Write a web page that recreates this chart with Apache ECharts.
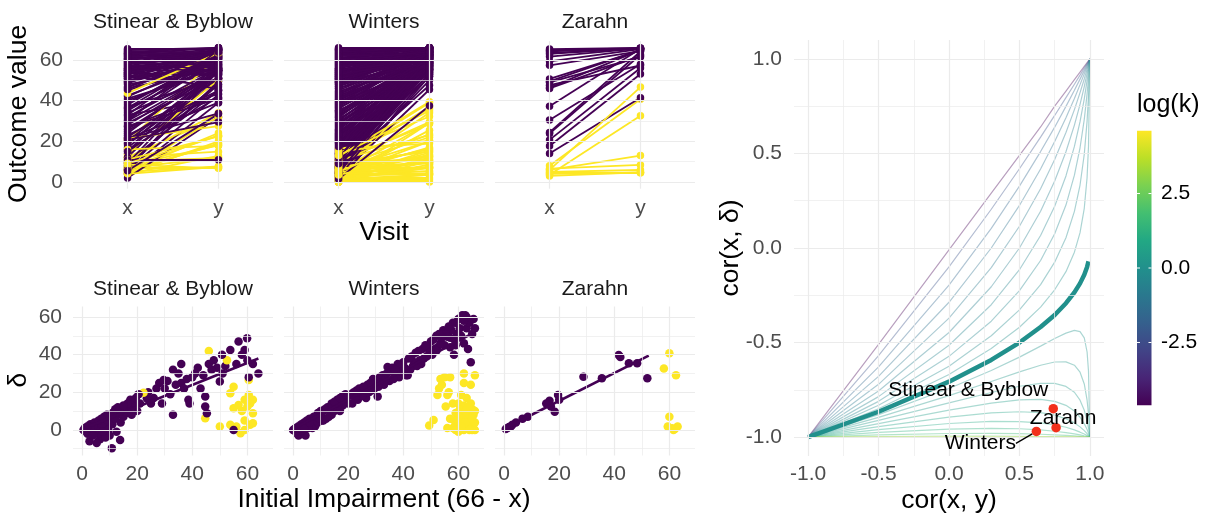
<!DOCTYPE html>
<html>
<head>
<meta charset="utf-8">
<script src="https://cdn.jsdelivr.net/npm/echarts@6/dist/echarts.min.js"></script>
<style>
  html, body { margin: 0; background: #fff; }
  #chart { width: 1206px; height: 514px; }
</style>
</head>
<body>
<div id="chart"></div>
<script>
// ---- data -------------------------------------------------------------
const studies = ['Stinear & Byblow', 'Winters', 'Zarahn'];
const maxScore = 66;            // initial impairment = 66 - x
const visitLabels = ['x', 'y'];

// [initial impairment, delta, fitter(1) / non-fitter(0)]
const stinear = [
  [0.5,0,1],[1,1,1],[1.5,-1,1],[2,2,1],[2,-2,1],[2.7,-6,1],[3,1,1],[3,3,1],[3.5,-1,1],[4,2,1],
  [4,-3,1],[4.5,4,1],[5,0,1],[5.3,-7,1],[5.5,3,1],[6,5,1],[6,-2,1],[6.5,-5,1],[7,2,1],[7,6,1],
  [7.5,-1,1],[8,4,1],[8,7,1],[8.5,-4,1],[9,3,1],[9,8,1],[9.5,0,1],[10,6,1],[10,-3,1],[10.8,-9.7,1],
  [11,9,1],[11,3,1],[12,11,1],[12,6,1],[12.5,-1,1],[13,8,1],[13,12,1],[13.8,-5.3,1],[14,4,1],[14,10,1],
  [15,13,1],[15,7,1],[16,9,1],[16.5,14,1],[17,11,1],[17.5,16,1],[18,8,1],[19,13,1],[19.5,17,1],[20,10,1],
  [20.5,19,1],[21,14,1],[23.5,16.8,1],[24,20,1],[25,14,1],[26,17,1],[27,22,1],[28,25,1],[29,14,1],[29.6,26.5,1],
  [30,22,1],[31,26,1],[32,19,1],[33,32,1],[33,8,1],[34,24,1],[35,30,1],[36,35,1],[36,25,1],[37,22,1],
  [38,27,1],[38.6,16,1],[39,14,1],[40,28,1],[41,30,1],[42,33,1],[43,22,1],[44,29,1],[44.7,17.7,1],[44.7,12.4,1],
  [45.3,8.8,1],[46,35,1],[47,32,1],[47.8,37,1],[49,33,1],[50,25.7,1],[50.8,40,1],[51,30,1],[52,34,1],[53.8,42.5,1],
  [55,0,1],[56,35,1],[56.8,47,1],[58,40,1],[59,42.5,1],[59.9,48.7,1],[60,37,1],[60.5,28,1],[62,35,1],[64,30,1],
  [22.3,19.8,0],[46,42,0],[52.6,37,0],[44.7,6.2,0],[53.8,19.5,0],[55,23,0],[60.5,26.5,0],[50,1.8,0],[53.8,2.7,0],[56,1.8,0],
  [57.5,-1.8,0],[59,0,0],[61,2.7,0],[62,3.5,0],[60.5,18.6,0],[62,16,0],[59,16,0],[56.8,13.3,0],[62,8.8,0],[60,12.4,0],
  [55,11.5,0],[58,10,0],[61,14,0],[59,5,0]
];
const winters = [
  [0,0,1],[0.5,0.5,1],[1,-1,1],[1,1,1],[1.5,-2,1],[2,2,1],[2,-3,1],[2.5,1,1],[3,3,1],[3,-1,1],
  [3.5,0,1],[4,1,1],[4,4,1],[4.5,-3,1],[5,3,1],[5,5,1],[5.5,1,1],[6,4,1],[6,6,1],[6.5,2,1],
  [7,5,1],[7,1,1],[7.5,7,1],[8,6,1],[8,2,1],[8.5,7,1],[9,9,1],[9,4,1],[9.5,6,1],[10,8,1],
  [10,10,1],[10.5,5,1],[11,10,1],[11,5,1],[11.5,11,1],[12,11,1],[12,6,1],[12.5,12,1],[13,12,1],[13,7,1],
  [13.5,10,1],[14,14,1],[14,8,1],[14.5,11,1],[15,15,1],[15,10,1],[15.5,13,1],[16,16,1],[16,11,1],[16.5,14,1],
  [17,17,1],[17,10,1],[17.5,15,1],[18,18,1],[18,13,1],[19,15,1],[19,19,1],[20,18,1],[20,14,1],
  [21,19,1],[21.5,14,1],[22,20,1],[22.5,17,1],[23,21,1],[23.5,16,1],[24,22,1],[24.5,19,1],[25,18,1],[25.5,23,1],
  [26,21,1],[26.5,17,1],[27,24,1],[27.5,20,1],[28,25,1],[28.5,21,1],[29,27,1],[29.5,22,1],[30,26,1],[30.7,17.7,1],
  [31,23,1],[31.5,28,1],[32,25,1],[32.5,29,1],[33,24,1],[33.5,27,1],[34,30,1],[34.3,33.5,1],[35,26,1],[35.5,31,1],
  [36,33,1],[36.5,27,1],[37,32,1],[37.5,29,1],[38,35,1],[38.5,28,1],[39,34,1],[39.5,31,1],[40,36,1],
  [40.5,33,1],[41,29,1],[41.6,29,1],[42,38,1],[42.5,32,1],[43,39,1],[43.5,34,1],[44,36,1],[44.5,41,1],[45,34,1],
  [45.5,42,1],[46,37,1],[46.5,35,1],[47,43,1],[47.5,38,1],[48,45,1],[48.5,39,1],[49,44,1],[49.5,41,1],[50,47,1],
  [50.5,40,1],[51,48,1],[51.5,43,1],[52,50,1],[52.5,44,1],[53,51,1],[53.5,46,1],[54,49,1],[54.5,53,1],[55,45,1],
  [55.5,51,1],[56,49.5,1],[56.5,55,1],[57,44,1],[57.5,53,1],[58,57,1],[58.4,40,1],[58.5,48,1],[59,57,1],[59.5,51,1],
  [60,59,1],[60.5,54,1],[61,60,1],[61.4,61,1],[62,58,1],[62,46,1],[62.5,61,1],[63,54,1],[63.5,43,1],[64,57,1],
  [64.5,36,1],[65,51,1],[65.5,59,1],[66,54,1],[59,45,1],[61,50,1],[63,60,1],[57,49,1],[55,52,1],[52,42,1],
  [49.4,2.3,0],[51,5.3,0],[52.4,18.6,0],[55,28,0],[54,24,0],[57,28,0],[55.4,12.4,0],[53,22,0],[56,18.6,0],[62,30,0],
  [62,25,0],[66,29,0],[64.5,24,0],[61,18.6,0],[63,17,0],[60,14,0],[58,1,0],[58.5,5,0],[59,0,0],[59,9,0],
  [59.5,3,0],[60,7,0],[60,-1,0],[60.5,11,0],[61,2,0],[61,5,0],[61.5,8,0],[62,0,0],[62,13,0],[62.5,4,0],
  [62.5,10,0],[63,1,0],[63,7,0],[63.5,3,0],[63.5,12,0],[64,0,0],[64,5,0],[64,9,0],[64.5,2,0],[64.5,14,0],
  [65,0,0],[65,6,0],[65,11,0],[65.5,3,0],[65.5,8,0],[66,0,0],[66,4,0],[66,10,0],[57,6,0],[56,1,0],
  [58,14,0],[56.5,20,0],[53.5,27,0]
];
const zarahn = [
  [0.6,0.5,1],[1.2,1,1],[1.8,1.5,1],[2.5,2,1],[3,2.8,1],[4.3,4,1],[6.7,6,1],[8.6,7,1],[15.3,14,1],[16.5,15.5,1],
  [17,12.5,1],[18.4,9.7,1],[19.6,18.6,1],[20,16,1],[28.8,28.3,1],[35.5,27.4,1],[41.6,39.8,1],[42.2,38.8,1],[45.3,35.4,1],[48.3,35.4,1],
  [52,27.4,1],
  [60,40.7,0],[58,32.7,0],[62.4,29,0],[60,7,0],[59.4,1.8,0],[61,0.9,0],[63,1.8,0],[61.5,0,0],[62,0.5,0]
];
const studyData = [stinear, winters, zarahn];
// fitted proportional-recovery lines (start, end) per study
const fitLines = [[[0, 0.5], [64, 38]], [[0, 0.5], [66, 52]], [[0.5, 1], [52.5, 39.5]]];

// right panel: cor(x, delta) against cor(x, y), one curve per k
const rhoGrid = [-1, -0.5, 0, 0.3, 0.5, 0.65, 0.75, 0.83, 0.89, 0.93, 0.96, 0.98, 0.99, 1];
const kValues = [0.01, 0.1, 0.2, 0.3, 0.4, 0.5, 0.6, 0.7, 0.8, 0.9, 1,
  1.111, 1.25, 1.429, 1.667, 2, 2.5, 3.333, 5, 10, 100];
const corCurves = [
  [-1, -0.51, -0.01, 0.29, 0.49, 0.64, 0.75, 0.83, 0.89, 0.93, 0.96, 0.98, 0.99, 1],
  [-1, -0.569, -0.1, 0.205, 0.419, 0.586, 0.701, 0.795, 0.866, 0.914, 0.951, 0.975, 0.988, 1],
  [-1, -0.629, -0.196, 0.104, 0.327, 0.51, 0.639, 0.749, 0.834, 0.893, 0.938, 0.969, 0.984, 1],
  [-1, -0.679, -0.287, 0, 0.225, 0.418, 0.563, 0.689, 0.791, 0.864, 0.921, 0.96, 0.98, 1],
  [-1, -0.721, -0.371, -0.104, 0.115, 0.313, 0.468, 0.611, 0.732, 0.822, 0.894, 0.946, 0.973, 1],
  [-1, -0.756, -0.447, -0.205, 0, 0.194, 0.354, 0.509, 0.65, 0.76, 0.854, 0.924, 0.961, 1],
  [-1, -0.786, -0.514, -0.3, -0.115, 0.066, 0.221, 0.381, 0.537, 0.668, 0.789, 0.886, 0.94, 1],
  [-1, -0.811, -0.573, -0.387, -0.225, -0.066, 0.075, 0.227, 0.385, 0.53, 0.68, 0.815, 0.899, 1],
  [-1, -0.832, -0.625, -0.464, -0.327, -0.194, -0.075, 0.054, 0.194, 0.333, 0.496, 0.671, 0.803, 1],
  [-1, -0.85, -0.669, -0.532, -0.419, -0.313, -0.221, -0.125, -0.022, 0.081, 0.21, 0.373, 0.538, 1],
  [-1, -0.866, -0.707, -0.592, -0.5, -0.418, -0.354, -0.292, -0.235, -0.187, -0.141, -0.1, -0.071, null],
  [-1, -0.881, -0.743, -0.648, -0.577, -0.519, -0.479, -0.45, -0.436, -0.442, -0.475, -0.55, -0.652, -1],
  [-1, -0.896, -0.781, -0.706, -0.655, -0.62, -0.603, -0.602, -0.62, -0.657, -0.719, -0.805, -0.879, -1],
  [-1, -0.912, -0.819, -0.764, -0.731, -0.716, -0.716, -0.732, -0.763, -0.805, -0.858, -0.914, -0.952, -1],
  [-1, -0.929, -0.857, -0.82, -0.803, -0.801, -0.811, -0.832, -0.862, -0.895, -0.93, -0.96, -0.979, -1],
  [-1, -0.945, -0.894, -0.872, -0.866, -0.871, -0.884, -0.903, -0.925, -0.946, -0.966, -0.982, -0.99, -1],
  [-1, -0.961, -0.928, -0.917, -0.918, -0.925, -0.935, -0.948, -0.962, -0.974, -0.984, -0.992, -0.996, -1],
  [-1, -0.975, -0.958, -0.954, -0.956, -0.962, -0.969, -0.976, -0.983, -0.988, -0.993, -0.996, -0.998, -1],
  [-1, -0.988, -0.981, -0.98, -0.982, -0.985, -0.988, -0.991, -0.994, -0.996, -0.998, -0.999, -0.999, -1],
  [-1, -0.997, -0.995, -0.995, -0.996, -0.997, -0.997, -0.998, -0.999, -0.999, -1, -1, -1, -1],
  [-1, -1, -1, -1, -1, -1, -1, -1, -1, -1, -1, -1, -1, -1]
];
// observed correlations per study: [cor(x, y), cor(x, delta)]
const studyCor = [[0.74, -0.85], [0.62, -0.97], [0.76, -0.95]];

const outcomeTicks = [0, 20, 40, 60];
const impairTicks = [0, 20, 40, 60];
const deltaTicks = [0, 20, 40, 60];
const corTicks = [-1, -0.5, 0, 0.5, 1];
const legendTicks = [-2.5, 0, 2.5];

// ---- styling ----------------------------------------------------------
const FONT = '"Liberation Sans", Arial, Helvetica, sans-serif';
const groupColor = ['#FDE725', '#440154'];
const viridis = ['#440154', '#482576', '#414487', '#35608D', '#2A788E', '#21908C',
  '#22A884', '#43BF71', '#7AD151', '#BBDF27', '#FDE725'];
const GRID_COL = '#EBEBEB';

function hexRgb(h) {
  return [1, 3, 5].map(i => parseInt(h.slice(i, i + 2), 16));
}
function viridisAt(t) {
  t = Math.max(0, Math.min(1, t));
  const p = t * (viridis.length - 1);
  const i = Math.min(Math.floor(p), viridis.length - 2);
  const f = p - i;
  const a = hexRgb(viridis[i]), b = hexRgb(viridis[i + 1]);
  return 'rgb(' + a.map((v, j) => Math.round(v + (b[j] - v) * f)).join(',') + ')';
}
// interleave draw order like the original data order
function drawOrder(n) {
  return Array.from({ length: n }, (_, i) => i).sort((a, b) => ((a * 37) % n) - ((b * 37) % n));
}

// panel layout
const panelLeft = [73, 284, 495];
const panelW = 200;
const topTop = 41.1, topH = 147.6;
const botTop = 306.5, botH = 149;

const grids = [];
const xAxes = [];
const yAxes = [];
const series = [];

const tickLabel = (extra) => Object.assign({
  color: '#4D4D4D', fontSize: 21, fontFamily: FONT
}, extra);
const hiddenAxisParts = {
  axisLine: { show: false }, axisTick: { show: false }, splitLine: { show: false }
};

// grid lines through markLine on an empty helper series
function gridLines(idx, xMajor, xMinor, yMajor, yMinor) {
  const item = (key, v, w) => ({ [key]: v, lineStyle: { color: GRID_COL, width: w, type: 'solid' } });
  const data = [
    ...xMinor.map(v => item('xAxis', v, 0.7)),
    ...yMinor.map(v => item('yAxis', v, 0.7)),
    ...xMajor.map(v => item('xAxis', v, 1.2)),
    ...yMajor.map(v => item('yAxis', v, 1.2))
  ];
  series.push({
    type: 'line', xAxisIndex: idx, yAxisIndex: idx, data: [], z: 0, silent: true,
    markLine: { silent: true, symbol: ['none', 'none'], label: { show: false }, data: data }
  });
}

// ---- top row: outcome at visit x and y -------------------------------
studyData.forEach((rows, i) => {
  const idx = i;
  grids.push({ left: panelLeft[i], top: topTop, width: panelW, height: topH });
  xAxes.push(Object.assign({
    gridIndex: idx, type: 'value', min: -0.6, max: 1.6,
    axisLabel: tickLabel({ customValues: [0, 1], margin: 9, formatter: v => visitLabels[Math.round(v)] })
  }, hiddenAxisParts));
  yAxes.push(Object.assign({
    gridIndex: idx, type: 'value', min: -3.3, max: 69.3,
    axisLabel: tickLabel({ show: i === 0, customValues: outcomeTicks, margin: 10 })
  }, hiddenAxisParts));
  gridLines(idx, [0, 1], [], outcomeTicks, [10, 30, 50]);

  const order = drawOrder(rows.length);
  const lineData = [];
  const pointData = [];
  order.forEach(j => {
    const [imp, d, fit] = rows[j];
    const x0 = maxScore - imp;
    const col = groupColor[fit];
    lineData.push({ coords: [[0, x0], [1, x0 + d]], lineStyle: { color: col } });
    pointData.push({ value: [0, x0], itemStyle: { color: col } });
    pointData.push({ value: [1, x0 + d], itemStyle: { color: col } });
  });
  series.push({
    type: 'lines', coordinateSystem: 'cartesian2d', xAxisIndex: idx, yAxisIndex: idx,
    data: lineData, lineStyle: { width: 1.8, opacity: 1 }, silent: true, z: 2
  });
  series.push({
    type: 'scatter', xAxisIndex: idx, yAxisIndex: idx, data: pointData,
    symbolSize: 7.5, itemStyle: { opacity: 1 }, silent: true, z: 3
  });
});

// ---- bottom row: delta against initial impairment --------------------
studyData.forEach((rows, i) => {
  const idx = 3 + i;
  grids.push({ left: panelLeft[i], top: botTop, width: panelW, height: botH });
  xAxes.push(Object.assign({
    gridIndex: idx, type: 'value', min: -3.3, max: 69.3,
    axisLabel: tickLabel({ customValues: impairTicks, margin: 8 })
  }, hiddenAxisParts));
  yAxes.push(Object.assign({
    gridIndex: idx, type: 'value', min: -13.6, max: 65.6,
    axisLabel: tickLabel({ show: i === 0, customValues: deltaTicks, margin: 11 })
  }, hiddenAxisParts));
  gridLines(idx, impairTicks, [10, 30, 50], deltaTicks, [-10, 10, 30, 50]);

  const order = drawOrder(rows.length);
  series.push({
    type: 'scatter', xAxisIndex: idx, yAxisIndex: idx, symbolSize: 8.5, silent: true, z: 3,
    itemStyle: { opacity: 1 },
    data: order.map(j => ({ value: [rows[j][0], rows[j][1]], itemStyle: { color: groupColor[rows[j][2]] } }))
  });
  series.push({
    type: 'line', xAxisIndex: idx, yAxisIndex: idx, data: fitLines[i], symbol: 'none',
    lineStyle: { color: '#440154', width: 2.6 }, silent: true, z: 4
  });
});

// ---- right panel -----------------------------------------------------
const R = 6;
grids.push({ left: 794, top: 40, width: 310, height: 416 });
xAxes.push(Object.assign({
  gridIndex: R, type: 'value', min: -1.1, max: 1.1,
  axisLabel: tickLabel({ customValues: corTicks, margin: 8, formatter: v => v.toFixed(1) })
}, hiddenAxisParts));
yAxes.push(Object.assign({
  gridIndex: R, type: 'value', min: -1.1, max: 1.1,
  axisLabel: tickLabel({ customValues: corTicks, margin: 12, formatter: v => v.toFixed(1) })
}, hiddenAxisParts));
const corMinor = [-0.75, -0.25, 0.25, 0.75];
gridLines(R, corTicks, corMinor, corTicks, corMinor);

const logMin = Math.log(Math.min(...kValues));
const logMax = Math.log(Math.max(...kValues));
kValues.forEach((k, c) => {
  const t = (Math.log(k) - logMin) / (logMax - logMin);
  const thick = k === 1;
  series.push({
    type: 'line', xAxisIndex: R, yAxisIndex: R, symbol: 'none', silent: true,
    data: rhoGrid.map((r, j) => [r, corCurves[c][j]]).filter(p => p[1] !== null),
    lineStyle: { color: viridisAt(t), width: thick ? 4.5 : 1.2, opacity: thick ? 1 : 0.38 },
    z: thick ? 3 : 2
  });
});

const labelShift = [[-85, -19], [-56, 12], [7, -9]];
series.push({
  type: 'scatter', xAxisIndex: R, yAxisIndex: R, symbolSize: 9.5, silent: true, z: 5,
  itemStyle: { color: '#F2301B', opacity: 1 },
  data: studyCor.map((p, i) => ({
    value: p, name: studies[i],
    labelLine: { show: i === 1 }
  })),
  label: {
    show: true, position: 'inside', formatter: '{b}',
    color: '#000', fontSize: 21, fontFamily: FONT
  },
  labelLayout: p => ({ dx: labelShift[p.dataIndex][0], dy: labelShift[p.dataIndex][1] }),
  labelLine: { show: true, lineStyle: { color: '#000', width: 1.3 } }
});

// ---- titles, strips and the colour bar --------------------------------
function txt(text, x, y, size, opts) {
  opts = opts || {};
  return {
    type: 'text', x: x, y: y, rotation: opts.rot || 0, silent: true, z: 10,
    style: {
      text: text, font: size + 'px ' + FONT, fill: opts.fill || '#000',
      textAlign: opts.align || 'center', textVerticalAlign: 'middle'
    }
  };
}
const graphics = [];
studies.forEach((s, i) => {
  graphics.push(txt(s, panelLeft[i] + panelW / 2, 22, 21, { fill: '#1A1A1A' }));
  graphics.push(txt(s, panelLeft[i] + panelW / 2, 289, 21, { fill: '#1A1A1A' }));
});
graphics.push(txt('Outcome value', 19, 114, 26.5, { rot: Math.PI / 2 }));
graphics.push(txt('Visit', 384, 233, 26.5));
graphics.push(txt('δ', 19, 380, 26.5, { rot: Math.PI / 2 }));
graphics.push(txt('Initial Impairment (66 - x)', 384, 500, 26.5));
graphics.push(txt('cor(x, y)', 949, 501, 26.5));
graphics.push(txt('cor(x, δ)', 731, 248, 26.5, { rot: Math.PI / 2 }));
graphics.push(txt('log(k)', 1137, 105, 25, { align: 'left' }));

const barX = 1137, barW = 14.5, barTop = 130.8, barBot = 405.2;
graphics.push({
  type: 'rect', silent: true, z: 9,
  shape: { x: barX, y: barTop, width: barW, height: barBot - barTop },
  style: {
    fill: new echarts.graphic.LinearGradient(0, 0, 0, 1,
      viridis.map((c, i) => ({ offset: i / (viridis.length - 1), color: viridis[viridis.length - 1 - i] })))
  }
});
legendTicks.forEach(v => {
  const y = barTop + (logMax - v) / (logMax - logMin) * (barBot - barTop);
  graphics.push({ type: 'line', silent: true, z: 10,
    shape: { x1: barX, y1: y, x2: barX + 3, y2: y }, style: { stroke: '#fff', lineWidth: 1 } });
  graphics.push({ type: 'line', silent: true, z: 10,
    shape: { x1: barX + barW - 3, y1: y, x2: barX + barW, y2: y }, style: { stroke: '#fff', lineWidth: 1 } });
  graphics.push(txt(v.toFixed(1), 1161, y, 21, { align: 'left' }));
});

const chart = echarts.init(document.getElementById('chart'), null, { renderer: 'canvas' });
chart.setOption({
  animation: false,
  backgroundColor: '#fff',
  grid: grids,
  xAxis: xAxes,
  yAxis: yAxes,
  series: series,
  graphic: graphics
});
</script>
</body>
</html>
